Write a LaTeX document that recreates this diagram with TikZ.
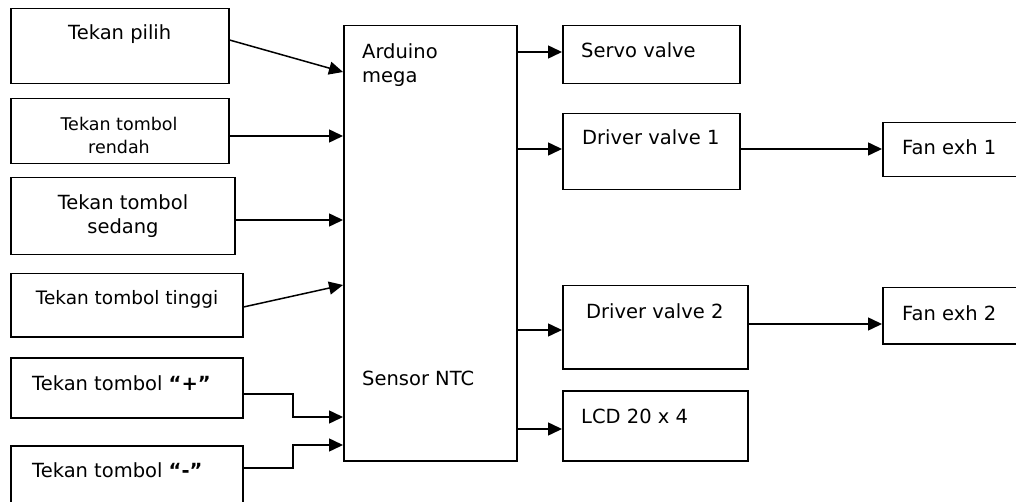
\documentclass[tikz,border=0pt]{standalone}
\usepackage{fontspec}
\setmainfont{DejaVu Sans}
\usetikzlibrary{arrows.meta}

\begin{document}
\begin{tikzpicture}[x=1pt,y=-1pt,
  blok/.style={draw, line width=1.5pt, anchor=north west, inner sep=0pt},
  teks/.style={inner sep=0pt, font=\fontsize{19.5}{24}\selectfont},
  kecil/.style={inner sep=0pt, font=\fontsize{17.5}{23}\selectfont},
  panah/.style={line width=1.5pt, -{Triangle[length=14pt,width=13pt]}}]

  % Page size
  \useasboundingbox (0,0) rectangle (1016,502);
  \clip (0,0) rectangle (1016,502);

  % Draw the input boxes
  \node[blok, minimum width=218pt, minimum height=75pt] (pilih) at (10,8) {};
  \node[blok, minimum width=218pt, minimum height=65pt] (rendah) at (10,98) {};
  \node[blok, minimum width=224pt, minimum height=77pt] (sedang) at (10,177) {};
  \node[blok, minimum width=232pt, minimum height=63pt] (tinggi) at (10,273) {};
  \node[blok, minimum width=232pt, minimum height=60pt] (plus) at (10,357) {};
  \node[blok, minimum width=232pt, minimum height=70pt] (minus) at (10,445) {};

  % Draw the controller
  \node[blok, minimum width=173pt, minimum height=435pt] (ard) at (343,25) {};

  % Draw the output boxes
  \node[blok, minimum width=177pt, minimum height=58pt] (servo) at (562,25) {};
  \node[blok, minimum width=177pt, minimum height=76pt] (driver1) at (562,113) {};
  \node[blok, minimum width=185pt, minimum height=83pt] (driver2) at (562,285) {};
  \node[blok, minimum width=185pt, minimum height=70pt] (lcd) at (562,390) {};
  \node[blok, minimum width=140pt, minimum height=54pt] (fan1) at (882,122) {};
  \node[blok, minimum width=140pt, minimum height=56pt] (fan2) at (882,287) {};

  % Labels
  \node[teks, anchor=base west] (tpilih) at (68,40) {Tekan pilih};
  \node[kecil, align=center] (trendah) at (119,135) {Tekan tombol\\rendah};
  \node[teks, align=center] (tsedang) at (123,216) {Tekan tombol\\sedang};
  \node[teks, font=\fontsize{18.5}{23}\selectfont, anchor=base] (ttinggi) at (127,304) {Tekan tombol tinggi};
  \node[teks, anchor=base west] (tplus) at (32,390) {Tekan tombol {\bfseries “+”}};
  \node[teks, anchor=base west] (tminus) at (32,477) {Tekan tombol {\bfseries “-”}};
  \node[teks, align=left, anchor=north west] (tard) at (362,43) {Arduino\\mega};
  \node[teks, anchor=base west] (tntc) at (362,385) {Sensor NTC};
  \node[teks, anchor=base west] (tservo) at (581,58) {Servo valve};
  \node[teks, anchor=base west] (tdriver1) at (582,145) {Driver valve 1};
  \node[teks, anchor=base west] (tdriver2) at (586,318) {Driver valve 2};
  \node[teks, anchor=base west] (tlcd) at (581,423) {LCD 20 x 4};
  \node[teks, anchor=base west] (tfan1) at (902,155) {Fan exh 1};
  \node[teks, anchor=base west] (tfan2) at (902,320) {Fan exh 2};

  % Inputs to the Arduino
  \draw[panah] ([yshift=-32pt]pilih.north east) -- ([yshift=-47pt]ard.north west);
  \draw[panah] (rendah.east |- 0,136) -- (ard.west |- 0,136);
  \draw[panah] (sedang.east |- 0,220) -- (ard.west |- 0,220);
  \draw[panah] (tinggi.east |- 0,307) -- (ard.west |- 0,285);
  \draw[panah] (plus.east |- 0,394) -- (293,394) -- (293,417) -- (ard.west |- 0,417);
  \draw[panah] (minus.east |- 0,468) -- (293,468) -- (293,445) -- (ard.west |- 0,445);

  % Outputs from the Arduino
  \foreach \b/\y in {servo/52, driver1/149, driver2/330, lcd/429} {
    \draw[panah] (ard.east |- 0,\y) -- (\b.west |- 0,\y);
  }

  % Drivers to the fans
  \draw[panah] (driver1.east |- 0,149) -- (fan1.west |- 0,149);
  \draw[panah] (driver2.east |- 0,324) -- (fan2.west |- 0,324);

\end{tikzpicture}
\end{document}
